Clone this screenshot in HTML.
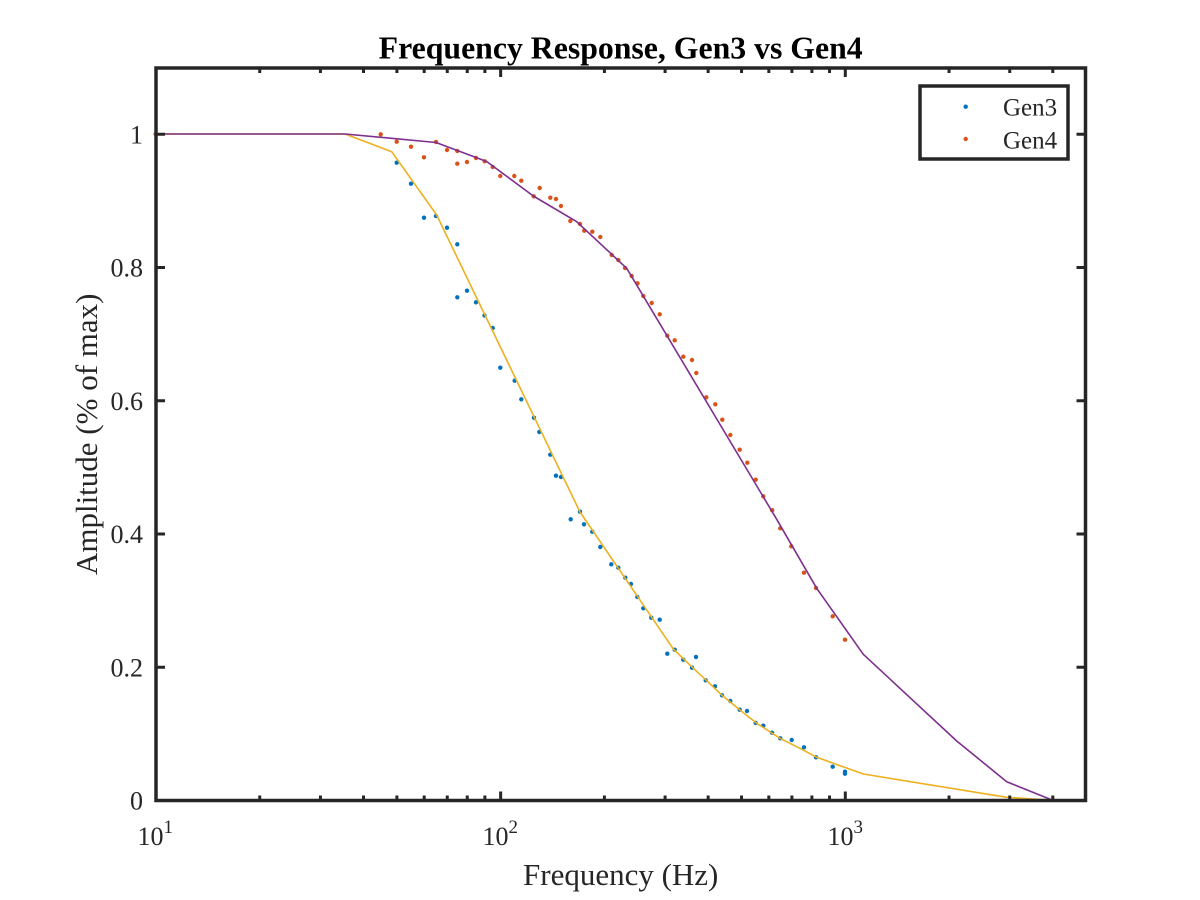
<!DOCTYPE html>
<html>
<head>
<meta charset="utf-8">
<style>
  html, body { margin:0; padding:0; background:#ffffff; }
  svg { display:block; }
  text { font-family: "Liberation Serif", "Times New Roman", serif; fill:#262626; }
</style>
</head>
<body>
<svg width="1200" height="900" viewBox="0 0 1200 900" xmlns="http://www.w3.org/2000/svg">
  <rect x="0" y="0" width="1200" height="900" fill="#ffffff"/>

  <!-- Title -->
  <text x="620.7" y="58.5" text-anchor="middle" font-size="31.5" font-weight="bold" style="fill:#000" textLength="484" lengthAdjust="spacingAndGlyphs">Frequency Response, Gen3 vs Gen4</text>

  <!-- Gen3 points -->
  <g fill="#0072BD">
    <circle cx="155.7" cy="134" r="2.2"/>
    <circle cx="396.7" cy="162.7" r="2.2"/><circle cx="411" cy="183.7" r="2.2"/><circle cx="424" cy="217.7" r="2.2"/>
    <circle cx="436" cy="216" r="2.2"/><circle cx="447" cy="227.7" r="2.2"/><circle cx="457.3" cy="244.3" r="2.2"/>
    <circle cx="457.3" cy="297.3" r="2.2"/><circle cx="467" cy="290.7" r="2.2"/><circle cx="476" cy="302.3" r="2.2"/>
    <circle cx="484.5" cy="315.5" r="2.2"/><circle cx="492.7" cy="328" r="2.2"/><circle cx="500.3" cy="367.7" r="2.2"/>
    <circle cx="514.7" cy="380.7" r="2.2"/><circle cx="521.3" cy="399.3" r="2.2"/><circle cx="534" cy="417.7" r="2.2"/>
    <circle cx="539.3" cy="432" r="2.2"/><circle cx="550.3" cy="454.7" r="2.2"/><circle cx="556" cy="475.7" r="2.2"/>
    <circle cx="561" cy="477" r="2.2"/><circle cx="570.7" cy="519.3" r="2.2"/><circle cx="580" cy="511.7" r="2.2"/>
    <circle cx="584" cy="524.3" r="2.2"/><circle cx="592.3" cy="531.7" r="2.2"/><circle cx="600.3" cy="547" r="2.2"/>
    <circle cx="611.3" cy="564.3" r="2.2"/><circle cx="618.3" cy="567.7" r="2.2"/><circle cx="625.3" cy="577.7" r="2.2"/>
    <circle cx="631" cy="584" r="2.2"/><circle cx="637.3" cy="597" r="2.2"/><circle cx="643.3" cy="608.3" r="2.2"/>
    <circle cx="651.3" cy="617.7" r="2.2"/><circle cx="659.7" cy="619.7" r="2.2"/><circle cx="667.3" cy="653.7" r="2.2"/>
    <circle cx="674.7" cy="649.7" r="2.2"/><circle cx="683.3" cy="659.7" r="2.2"/><circle cx="692" cy="667.7" r="2.2"/>
    <circle cx="696" cy="657" r="2.2"/><circle cx="705.7" cy="680.3" r="2.2"/><circle cx="715" cy="686.3" r="2.2"/>
    <circle cx="722" cy="695.3" r="2.2"/><circle cx="730.3" cy="701" r="2.2"/><circle cx="739.7" cy="709.7" r="2.2"/>
    <circle cx="747" cy="711" r="2.2"/><circle cx="755.7" cy="723" r="2.2"/><circle cx="763.3" cy="725.7" r="2.2"/>
    <circle cx="772" cy="732.7" r="2.2"/><circle cx="780.3" cy="738.3" r="2.2"/><circle cx="791.7" cy="740" r="2.2"/>
    <circle cx="804" cy="747.3" r="2.2"/><circle cx="816" cy="757.3" r="2.2"/><circle cx="832.7" cy="766.7" r="2.2"/>
    <circle cx="845" cy="771.7" r="2.2"/><circle cx="845" cy="773.7" r="2.2"/>
  </g>

  <!-- Gen4 points -->
  <g fill="#D95319">
    <circle cx="155.7" cy="134" r="2.2"/>
    <circle cx="380.7" cy="134.3" r="2.2"/><circle cx="396.7" cy="141.7" r="2.2"/><circle cx="411" cy="146.7" r="2.2"/>
    <circle cx="424" cy="157.3" r="2.2"/><circle cx="436" cy="142" r="2.2"/><circle cx="447" cy="150" r="2.2"/>
    <circle cx="457.3" cy="151" r="2.2"/><circle cx="457.3" cy="163.7" r="2.2"/><circle cx="467" cy="162" r="2.2"/>
    <circle cx="476" cy="158" r="2.2"/><circle cx="484.7" cy="161.3" r="2.2"/><circle cx="492.7" cy="167" r="2.2"/>
    <circle cx="500.3" cy="176" r="2.2"/><circle cx="514.3" cy="176" r="2.2"/><circle cx="521.3" cy="180.7" r="2.2"/>
    <circle cx="539.7" cy="188" r="2.2"/><circle cx="533.7" cy="196.3" r="2.2"/><circle cx="550.3" cy="197.7" r="2.2"/>
    <circle cx="556" cy="199" r="2.2"/><circle cx="561" cy="206" r="2.2"/><circle cx="570.3" cy="221" r="2.2"/>
    <circle cx="580" cy="224" r="2.2"/><circle cx="584.3" cy="230.7" r="2.2"/><circle cx="592.3" cy="231.7" r="2.2"/>
    <circle cx="600.3" cy="237" r="2.2"/><circle cx="611.7" cy="255" r="2.2"/><circle cx="618.3" cy="260" r="2.2"/>
    <circle cx="625" cy="268" r="2.2"/><circle cx="631.7" cy="276" r="2.2"/><circle cx="637.5" cy="283.3" r="2.2"/>
    <circle cx="643.3" cy="296" r="2.2"/><circle cx="651.7" cy="303" r="2.2"/><circle cx="659.7" cy="314.3" r="2.2"/>
    <circle cx="667.3" cy="335.7" r="2.2"/><circle cx="674.7" cy="340.3" r="2.2"/><circle cx="683.3" cy="356.7" r="2.2"/>
    <circle cx="692" cy="360" r="2.2"/><circle cx="696.3" cy="373" r="2.2"/><circle cx="706.3" cy="397.3" r="2.2"/>
    <circle cx="715.3" cy="404.3" r="2.2"/><circle cx="722.3" cy="419.7" r="2.2"/><circle cx="730.3" cy="435" r="2.2"/>
    <circle cx="739.7" cy="449.7" r="2.2"/><circle cx="747.3" cy="462.7" r="2.2"/><circle cx="755.7" cy="479.7" r="2.2"/>
    <circle cx="763.3" cy="496.3" r="2.2"/><circle cx="772.2" cy="510.2" r="2.2"/><circle cx="780.3" cy="528.3" r="2.2"/>
    <circle cx="791.3" cy="546.3" r="2.2"/><circle cx="804" cy="572.7" r="2.2"/><circle cx="816" cy="588" r="2.2"/>
    <circle cx="832.7" cy="616.3" r="2.2"/><circle cx="845" cy="639.7" r="2.2"/>
  </g>

  <!-- Fit lines -->
  <polyline fill="none" stroke="#EDB120" stroke-width="1.6" stroke-linejoin="round"
    points="156,134 345,134 391.7,151.7 436.7,215 580,512 673.3,649 691.7,666.7 706.7,680.7 721.7,695 740,710 756.7,723.3 780,738.3 800,748.3 816.7,757.3 863.3,774 1006.7,797.3 1053.3,800.3"/>
  <polyline fill="none" stroke="#7E2F8E" stroke-width="1.6" stroke-linejoin="round"
    points="156,134 345,134 436,142.5 486.7,161.5 533.3,196 576.7,221.7 626.7,268.3 776.7,519.3 816.7,588.3 863.3,654.3 956.7,741 1006.7,781.7 1053.3,800.5"/>

  <!-- Ticks -->
  <g stroke="#262626" stroke-width="3" fill="none">
    <!-- x major bottom/top -->
    <path d="M156,800.5 v-9 M500.65,800.5 v-9 M845.3,800.5 v-9 M156,68 v9 M500.65,68 v9 M845.3,68 v9"/>
    <!-- x minor bottom -->
    <path d="M259.75,800.5 v-5 M320.44,800.5 v-5 M363.5,800.5 v-5 M396.9,800.5 v-5 M424.19,800.5 v-5 M447.26,800.5 v-5 M467.25,800.5 v-5 M484.88,800.5 v-5
             M604.4,800.5 v-5 M665.09,800.5 v-5 M708.15,800.5 v-5 M741.55,800.5 v-5 M768.84,800.5 v-5 M791.91,800.5 v-5 M811.9,800.5 v-5 M829.53,800.5 v-5
             M949.05,800.5 v-5 M1009.74,800.5 v-5 M1052.8,800.5 v-5"/>
    <!-- x minor top -->
    <path d="M259.75,68 v5 M320.44,68 v5 M363.5,68 v5 M396.9,68 v5 M424.19,68 v5 M447.26,68 v5 M467.25,68 v5 M484.88,68 v5
             M604.4,68 v5 M665.09,68 v5 M708.15,68 v5 M741.55,68 v5 M768.84,68 v5 M791.91,68 v5 M811.9,68 v5 M829.53,68 v5
             M949.05,68 v5 M1009.74,68 v5 M1052.8,68 v5"/>
    <!-- y ticks left/right -->
    <path d="M156,667.3 h9 M156,534 h9 M156,400.8 h9 M156,267.5 h9 M156,134.3 h9
             M1085.5,667.3 h-9 M1085.5,534 h-9 M1085.5,400.8 h-9 M1085.5,267.5 h-9 M1085.5,134.3 h-9"/>
  </g>

  <!-- Axes box -->
  <rect x="156" y="68" width="929.5" height="732.5" fill="none" stroke="#262626" stroke-width="3.5"/>

  <!-- Y tick labels -->
  <g font-size="26" text-anchor="end">
    <text x="143" y="809.5">0</text>
    <text x="143" y="676.3">0.2</text>
    <text x="143" y="543">0.4</text>
    <text x="143" y="409.8">0.6</text>
    <text x="143" y="276.5">0.8</text>
    <text x="143" y="143.3">1</text>
  </g>

  <!-- X tick labels -->
  <g font-size="26">
    <text x="137.5" y="845">10<tspan font-size="19" dy="-12">1</tspan></text>
    <text x="482.5" y="845">10<tspan font-size="19" dy="-12">2</tspan></text>
    <text x="827.5" y="845">10<tspan font-size="19" dy="-12">3</tspan></text>
  </g>

  <!-- Axis labels -->
  <text x="620.7" y="885" text-anchor="middle" font-size="31">Frequency (Hz)</text>
  <text transform="translate(97,434.3) rotate(-90)" x="0" y="0" text-anchor="middle" font-size="31">Amplitude (% of max)</text>

  <!-- Legend -->
  <rect x="920" y="86" width="148" height="73" fill="#ffffff" stroke="#262626" stroke-width="3.5"/>
  <circle cx="965.7" cy="106.7" r="2.2" fill="#0072BD"/>
  <circle cx="965.7" cy="139" r="2.2" fill="#D95319"/>
  <text x="1003" y="115.7" font-size="25">Gen3</text>
  <text x="1003" y="148.3" font-size="25">Gen4</text>
</svg>
</body>
</html>
